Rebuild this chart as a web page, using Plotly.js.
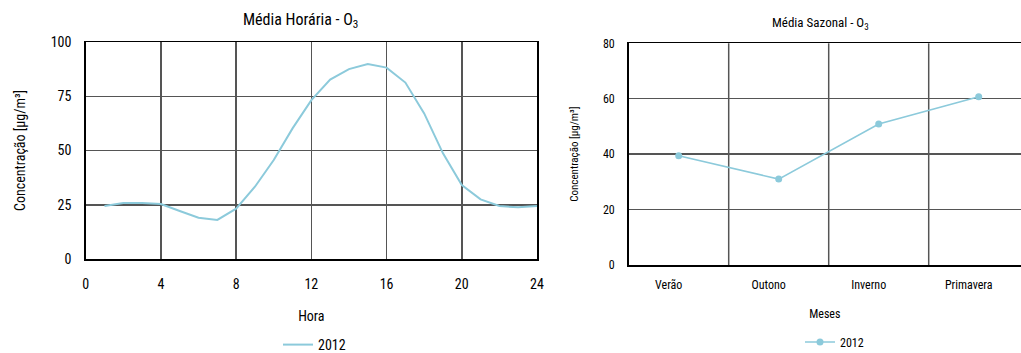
<!DOCTYPE html>
<html><head><meta charset="utf-8">
<script src="https://cdn.plot.ly/plotly-3.0.1.min.js"></script>
<style>html,body{margin:0;padding:0;background:#fff;}#chart{width:1021px;height:353px;}</style>
</head><body><div id="chart"></div>
<script>
// Hourly average O3 (µg/m³), 2012
const hours = [1,2,3,4,5,6,7,8,9,10,11,12,13,14,15,16,17,18,19,20,21,22,23,24];
const hourlyO3 = [24.4,25.8,25.8,25.3,22.1,19.0,18.0,23.2,33.3,45.6,60.2,73.2,82.7,87.5,89.8,88.2,81.3,67.1,48.7,34.1,27.5,24.4,23.8,24.4];
// Seasonal average O3 (µg/m³), 2012
const seasons = ["Verão","Outono","Inverno","Primavera"];
const seasonalO3 = [39.4,31.0,50.9,60.7];
const seriesName = "2012";

const FONT = "Roboto Condensed, Liberation Sans Narrow, Arial Narrow, sans-serif";
const WT = 400;
const LINE = "#8ccadb";
const W = 1021, H = 353;
const px = v => v / W, py = v => (H - v) / H;
const f = s => ({size: s, family: FONT, weight: WT, color: "#000"});

const traces = [
  {x: hours, y: hourlyO3, type: "scatter", mode: "lines", name: seriesName,
   line: {color: LINE, width: 2}, xaxis: "x", yaxis: "y", legend: "legend"},
  {x: seasons, y: seasonalO3, type: "scatter", mode: "lines+markers", name: seriesName,
   line: {color: LINE, width: 1.6}, marker: {color: LINE, size: 7},
   xaxis: "x2", yaxis: "y2", legend: "legend2"}
];

const grid = "#555";
const layout = {
  width: W, height: H,
  margin: {l: 0, r: 0, t: 0, b: 0, autoexpand: false},
  paper_bgcolor: "#fff", plot_bgcolor: "#fff",
  font: f(12),
  showlegend: true,
  xaxis: {domain: [px(85.7), px(537)], range: [0, 24], dtick: 4, tick0: 0,
    showgrid: true, gridcolor: grid, gridwidth: 1.5, zeroline: false,
    showline: true, linecolor: "#000", linewidth: 1.5, mirror: true,
    ticks: "", ticklabelstandoff: 12, tickfont: f(14),
    title: {text: "Hora", font: f(14), standoff: 20},
    automargin: false, anchor: "y", fixedrange: true},
  yaxis: {domain: [py(259), py(42)], range: [0, 100], dtick: 25,
    showgrid: true, gridcolor: grid, gridwidth: 1.5, zeroline: false,
    showline: true, linecolor: "#000", linewidth: 1.5, mirror: true,
    ticks: "", ticklabelstandoff: 10, tickfont: f(14),
    title: {text: "Concentração [µg/m³]", font: f(14), standoff: 22},
    automargin: false, anchor: "x", fixedrange: true},
  xaxis2: {domain: [px(628.7), 1], range: [-0.5, 3.423], type: "category",
    showgrid: false, zeroline: false,
    showline: true, linecolor: "#000", linewidth: 1.5, mirror: true,
    ticks: "", ticklabelstandoff: 8, ticklabelshift: -10, tickfont: f(12),
    title: {text: "Meses", font: f(12), standoff: 18},
    automargin: false, anchor: "y2", fixedrange: true},
  yaxis2: {domain: [py(265), py(43.3)], range: [0, 80], dtick: 20,
    showgrid: true, gridcolor: grid, gridwidth: 1.5, zeroline: false,
    showline: true, linecolor: "#000", linewidth: 1.5, mirror: true,
    ticks: "", ticklabelstandoff: 10, tickfont: f(12),
    title: {text: "Concentração [µg/m³]", font: f(11), standoff: 22},
    automargin: false, anchor: "x2", fixedrange: true},
  shapes: [0.5, 1.5, 2.5].map(v => ({type: "line", xref: "x2", yref: "y2 domain",
    x0: v, x1: v, y0: 0, y1: 1, line: {color: grid, width: 1.5}, layer: "below"})),
  legend: {x: px(278), y: py(345), xanchor: "left", yanchor: "middle", orientation: "h",
    font: f(14), bgcolor: "rgba(0,0,0,0)", itemwidth: 30},
  legend2: {x: px(800), y: py(342), xanchor: "left", yanchor: "middle", orientation: "h",
    font: f(12), bgcolor: "rgba(0,0,0,0)", itemwidth: 30},
  annotations: [
    {text: "Média Horária - O<sub>3</sub>", xref: "paper", yref: "paper",
     x: px(300), y: py(20), xanchor: "center", yanchor: "middle", showarrow: false,
     font: f(16)},
    {text: "Média Sazonal - O<sub>3</sub>", xref: "paper", yref: "paper",
     x: px(820), y: py(23), xanchor: "center", yanchor: "middle", showarrow: false,
     font: f(13)}
  ]
};

Plotly.newPlot("chart", traces, layout, {displayModeBar: false, staticPlot: true});
</script></body></html>
